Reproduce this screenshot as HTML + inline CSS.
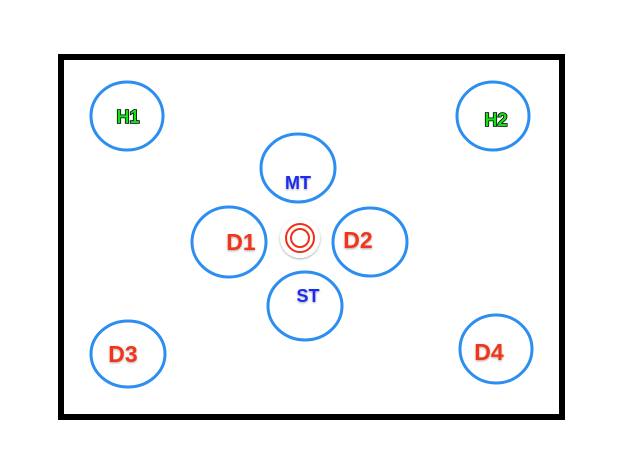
<!DOCTYPE html>
<html><head><style>html,body{margin:0;padding:0;background:#fff}svg{display:block}
text{font-family:"Liberation Sans",sans-serif;font-weight:bold;text-anchor:middle;dominant-baseline:central}</style></head>
<body>
<svg width="640" height="459" viewBox="0 0 640 459" xmlns="http://www.w3.org/2000/svg">
<defs><filter id="sh" x="-30%" y="-30%" width="160%" height="160%"><feDropShadow dx="0" dy="1" stdDeviation="1" flood-color="#000" flood-opacity="0.35"/></filter></defs>
<rect x="61" y="57" width="501" height="360" fill="#fff" stroke="#000" stroke-width="6"/>
<g fill="none" stroke="#2b8ef0" stroke-width="3">
<ellipse cx="127" cy="116" rx="36" ry="34"/>
<ellipse cx="493" cy="116" rx="36" ry="34"/>
<ellipse cx="298" cy="168" rx="37" ry="34"/>
<ellipse cx="229" cy="242" rx="37" ry="35"/>
<ellipse cx="370" cy="242" rx="37" ry="34"/>
<ellipse cx="305" cy="306" rx="37" ry="34"/>
<ellipse cx="128" cy="354" rx="37" ry="33"/>
<ellipse cx="496" cy="349" rx="36" ry="34"/>
</g>
<circle cx="300" cy="238" r="20" fill="#fff" filter="url(#sh)"/>
<circle cx="300" cy="238" r="14" fill="none" stroke="#f0301a" stroke-width="2"/>
<circle cx="300" cy="238" r="9" fill="none" stroke="#f0301a" stroke-width="2"/>
<g font-size="18" fill="#17e018" stroke="#000" stroke-width="1.6" paint-order="stroke">
<text x="128" y="117">H1</text><text x="496" y="120">H2</text></g>
<g font-size="18" fill="#1a2cf0" filter="url(#sh)"><text x="298" y="183">MT</text><text x="308" y="296">ST</text></g>
<g font-size="23" fill="#f0341a" filter="url(#sh)">
<text x="241" y="242">D1</text><text x="358" y="240">D2</text>
<text x="123" y="354">D3</text><text x="489" y="352">D4</text></g>
</svg>
</body></html>
